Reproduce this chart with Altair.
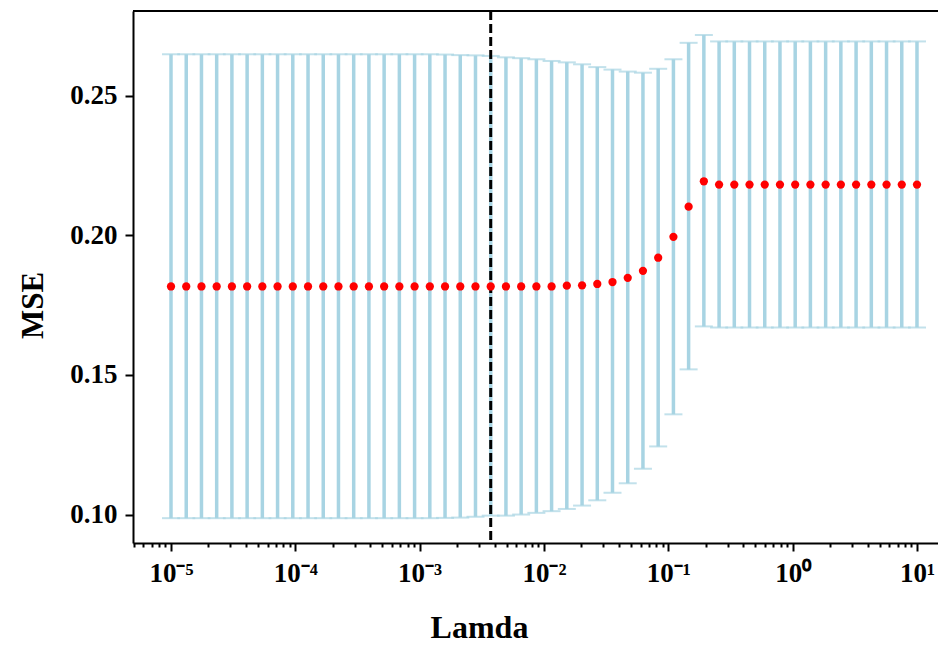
import altair as alt
import pandas as pd

# lambda values (x): 50 evenly log-spaced points from 1e-5 to 10
lam = [1.000e-5, 1.326e-5, 1.758e-5, 2.330e-5, 3.089e-5, 4.095e-5, 5.429e-5, 7.197e-5,
       9.541e-5, 1.265e-4, 1.677e-4, 2.223e-4, 2.947e-4, 3.907e-4, 5.179e-4, 6.866e-4,
       9.103e-4, 1.207e-3, 1.600e-3, 2.121e-3, 2.812e-3, 3.728e-3, 4.942e-3, 6.551e-3,
       8.685e-3, 1.151e-2, 1.526e-2, 2.024e-2, 2.683e-2, 3.556e-2, 4.715e-2, 6.251e-2,
       8.286e-2, 1.099e-1, 1.456e-1, 1.931e-1, 2.560e-1, 3.393e-1, 4.498e-1, 5.964e-1,
       7.906e-1, 1.048, 1.389, 1.842, 2.442, 3.237, 4.292, 5.690, 7.543, 10.0]

mse = [0.1817, 0.1817, 0.1817, 0.1817, 0.1817, 0.1817, 0.1817, 0.1817, 0.1817, 0.1817,
       0.1817, 0.1817, 0.1817, 0.1817, 0.1817, 0.1817, 0.1817, 0.1817, 0.1817, 0.1817,
       0.1817, 0.1817, 0.1817, 0.1817, 0.1817, 0.1817, 0.1820, 0.1821, 0.1826, 0.1833,
       0.1848, 0.1873, 0.1920, 0.1995, 0.2103, 0.2194, 0.2182, 0.2182, 0.2182, 0.2182,
       0.2182, 0.2182, 0.2182, 0.2182, 0.2182, 0.2182, 0.2182, 0.2182, 0.2182, 0.2182]

upper = [0.2649, 0.2649, 0.2649, 0.2649, 0.2649, 0.2649, 0.2649, 0.2649, 0.2649, 0.2649,
         0.2649, 0.2649, 0.2649, 0.2649, 0.2649, 0.2649, 0.2649, 0.2649, 0.2648, 0.2646,
         0.2645, 0.2643, 0.2638, 0.2635, 0.2631, 0.2625, 0.2620, 0.2613, 0.2603, 0.2594,
         0.2587, 0.2583, 0.2597, 0.2631, 0.2690, 0.2718, 0.2695, 0.2695, 0.2695, 0.2695,
         0.2695, 0.2695, 0.2695, 0.2695, 0.2695, 0.2695, 0.2695, 0.2695, 0.2695, 0.2695]

lower = [0.0987, 0.0987, 0.0987, 0.0987, 0.0987, 0.0987, 0.0987, 0.0987, 0.0987, 0.0987,
         0.0987, 0.0987, 0.0987, 0.0987, 0.0987, 0.0987, 0.0987, 0.0987, 0.0988, 0.0989,
         0.0992, 0.0996, 0.0996, 0.1000, 0.1006, 0.1012, 0.1020, 0.1032, 0.1051, 0.1078,
         0.1112, 0.1164, 0.1244, 0.1359, 0.1520, 0.1674, 0.1670, 0.1670, 0.1670, 0.1670,
         0.1670, 0.1670, 0.1670, 0.1670, 0.1670, 0.1670, 0.1670, 0.1670, 0.1670, 0.1670]

best_lambda = [0.003728]

major_ticks = [1e-5, 1e-4, 1e-3, 1e-2, 1e-1, 1, 10]
major_exps = [-5, -4, -3, -2, -1, 0, 1]
tick_labels = ["10\u207b\u2075", "10\u207b\u2074", "10\u207b\u00b3", "10\u207b\u00b2",
               "10\u207b\u00b9", "10\u2070", "10\u00b9"]
y_ticks = [0.10, 0.15, 0.20, 0.25]

minor_mult = [2, 3, 4, 5, 6, 7, 8, 9]
decades = [1e-6, 1e-5, 1e-4, 1e-3, 1e-2, 1e-1, 1]
x_domain = [4.947e-6, 14.757]
y_domain = [0.0898, 0.2804]

tick_values = sorted(major_ticks + [m * d for d in decades for m in minor_mult
                                    if x_domain[0] <= m * d <= x_domain[1]])

df = pd.DataFrame({"lam": lam, "mse": mse, "upper": upper, "lower": lower})
df_best = pd.DataFrame({"lam": best_lambda})

W, H = 805, 532
FONT = "Liberation Serif"
BAR = "#A8D4E3"

is_major = "abs(log(datum.value)/LN10 - round(log(datum.value)/LN10)) < 0.001"
lab = "''"
for e, t in zip(reversed(major_exps), reversed(tick_labels)):
    lab = f"round(log(datum.value)/LN10) == {e} ? '{t}' : ({lab})"
label_expr = f"{is_major} ? ({lab}) : ''"

x_axis = alt.Axis(
    values=tick_values, labelExpr=label_expr, title="Lamda",
    tickSize={"condition": {"test": is_major, "value": 8}, "value": 4},
    tickWidth=2, tickColor="black", domainColor="black", domainWidth=2,
    labelFont=FONT, labelFontSize=27, labelFontWeight="bold", labelColor="black",
    labelPadding=9, labelOverlap=False, labelFlush=False, grid=False,
    titleFont=FONT, titleFontSize=32, titleFontWeight="bold", titleColor="black",
    titleX=346, titleY=94, titleBaseline="alphabetic", titleAlign="center",
)
y_axis = alt.Axis(
    values=y_ticks, format=".2f", title="MSE",
    tickSize=8, tickWidth=2, tickColor="black", domainColor="black", domainWidth=2,
    labelFont=FONT, labelFontSize=27, labelFontWeight="bold", labelColor="black",
    labelPadding=8, grid=False,
    titleFont=FONT, titleFontSize=31, titleFontWeight="bold", titleColor="black",
    titleX=-100, titleY=294, titleBaseline="middle", titleAlign="center", titleAngle=-90,
)

xs = alt.Scale(type="log", domain=x_domain, nice=False)
ys = alt.Scale(domain=y_domain, nice=False, zero=False)

def X():
    return alt.X("lam:Q", scale=xs, axis=x_axis, title="Lamda")

def Y(field):
    return alt.Y(f"{field}:Q", scale=ys, axis=y_axis, title="MSE")

bars = alt.Chart(df).mark_rule(color=BAR, strokeWidth=3.5).encode(
    x=X(), y=Y("lower"), y2="upper:Q")
cap_hi = alt.Chart(df).mark_tick(color=BAR, orient="horizontal", size=18,
                                 thickness=2).encode(x=X(), y=Y("upper"))
cap_lo = alt.Chart(df).mark_tick(color=BAR, orient="horizontal", size=18,
                                 thickness=2).encode(x=X(), y=Y("lower"))
vline = alt.Chart(df_best).mark_rule(color="black", strokeWidth=3,
                                     strokeDash=[9, 4]).encode(x=X())
pts = alt.Chart(df).mark_circle(color="#FF0000", size=68, opacity=1).encode(
    x=X(), y=Y("mse"))
top_line = alt.Chart(df_best).mark_rule(color="black", strokeWidth=2).encode(
    x=alt.value(0), x2=alt.value(W), y=alt.value(0))

chart = alt.layer(bars, cap_hi, cap_lo, vline, pts, top_line).properties(
    width=W, height=H,
    autosize=alt.AutoSizeParams(type="none"),
    padding={"left": 125, "top": 3, "right": 0, "bottom": 103},
).configure_view(stroke=None).configure(background="white")

chart.save("out.html", embed_options={"renderer": "svg", "actions": False})
